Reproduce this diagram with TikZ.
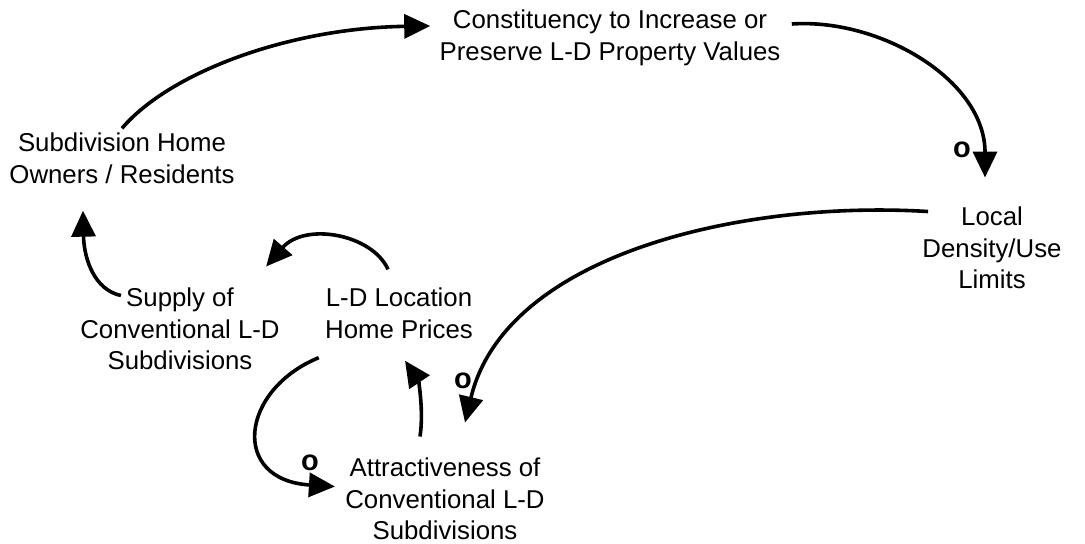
\documentclass[tikz,border=0pt]{standalone}
\usepackage{fontspec}
\setmainfont{Liberation Sans}
\usepackage{tikz}
\usetikzlibrary{arrows.meta, positioning}

\begin{document}
\begin{tikzpicture}[
    x=0.5pt, y=-0.5pt,
    var/.style={align=center, inner sep=2pt, font=\fontsize{12.9}{15.8}\selectfont},
    link/.style={-{Triangle[length=13pt, width=12pt]}, line width=1.8pt},
    pol/.style={font=\fontsize{14.5}{15}\selectfont\bfseries}
]
\useasboundingbox (0,0) rectangle (1085,544);

\node[var] (cons)   at (610,38)  {Constituency to Increase or\\Preserve L-D Property Values};
\node[var] (own)    at (122,158) {Subdivision Home\\Owners / Residents};
\node[var] (local)  at (992,248) {Local\\Density/Use\\Limits};
\node[var] (supply) at (180,329) {Supply of\\Conventional L-D\\Subdivisions};
\node[var] (prices) at (399,313) {L-D Location\\Home Prices};
\node[var] (attr)   at (445,499) {Attractiveness of\\Conventional L-D\\Subdivisions};

% outer loop
\draw[link] (own.north) .. controls (170,72) and (290,28) .. ([shift={(-5,-12)}]cons.west);
\draw[link] ([shift={(7,-14)}]cons.east) .. controls (880,18) and (985,80) .. ([shift={(-7,-25)}]local.north);
\draw[link] ([shift={(10,9)}]local.north west) .. controls (740,200) and (505,255) .. ([shift={(20,-31)}]attr.north);

% inner loops
\draw[link] ([shift={(-25,-17)}]attr.north) .. controls (424,410) and (418,380) .. ([shift={(6,18)}]prices.south);
\draw[link] ([shift={(-11,-14)}]prices.north) .. controls (372,234) and (305,222) .. ([shift={(-18,-17)}]supply.north east);
\draw[link] ([shift={(45,12)}]supply.north west) .. controls (95,290) and (84,260) .. ([shift={(-39,23)}]own.south);
\draw[link] ([shift={(-2,15)}]prices.south west) .. controls (240,390) and (230,480) .. ([shift={(-6,33)}]attr.north west);

% polarity marks
\node[pol] (p1) at (962,150) {o};
\node[pol] (p2) at (463,381) {o};
\node[pol] (p3) at (310,463) {o};
\end{tikzpicture}
\end{document}
